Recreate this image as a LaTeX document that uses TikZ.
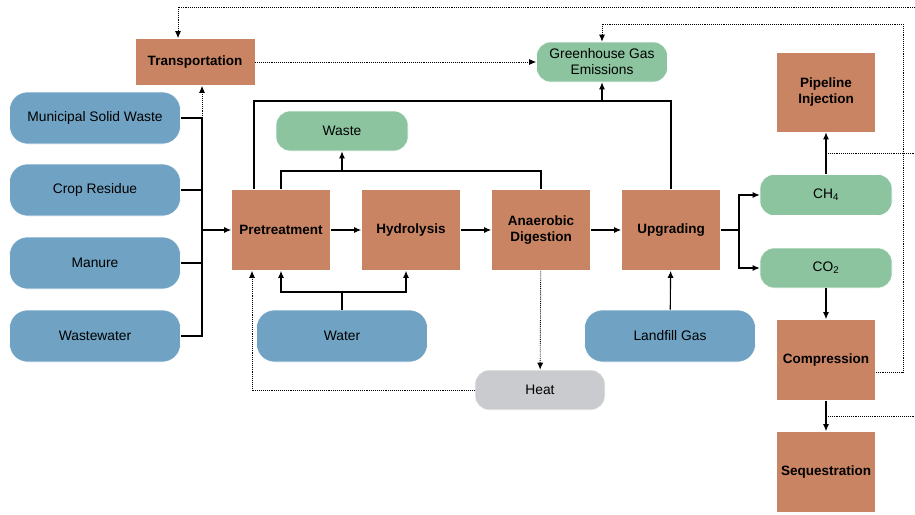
\documentclass[tikz,border=0pt]{standalone}
\usepackage{fontspec}
\setmainfont{Liberation Sans}
\usetikzlibrary{shapes.geometric, arrows, arrows.meta}

\definecolor{procfill}{HTML}{C98463}
\definecolor{srcfill}{HTML}{6FA2C3}
\definecolor{outfill}{HTML}{8BC49F}
\definecolor{heatfill}{HTML}{CACBCE}

\begin{document}
\begin{tikzpicture}[x=1pt,y=-1pt,node distance=130pt,font=\fontsize{13.8}{16}\selectfont]
\tikzstyle{proc}=[rectangle,align=center,draw=white,line width=0.6pt,fill=procfill,minimum width=99pt,minimum height=81pt,font=\fontsize{13.5}{16}\selectfont\bfseries]
\tikzstyle{src}=[rectangle,rounded corners=18pt,align=center,draw=white,line width=0.6pt,fill=srcfill,minimum width=171pt,minimum height=52pt]
\tikzstyle{prod}=[rectangle,rounded corners=14pt,align=center,draw=white,line width=0.6pt,fill=outfill,minimum width=132pt,minimum height=40pt]
\tikzstyle{solid line}=[line width=1.1pt]
\tikzstyle{arrow}=[line width=1.1pt,-{Latex[length=7pt,width=6pt]}]
\tikzstyle{dots}=[densely dotted,line width=0.9pt,-{Latex[length=7pt,width=6pt]}]
\useasboundingbox (0,0) rectangle (915,514);
\node[proc] (pre) at (281,230) {Pretreatment};
\node[proc, right of=pre] (hyd) {Hydrolysis};
\node[proc, right of=hyd] (ad) {Anaerobic\\Digestion};
\node[proc, right of=ad] (upg) {Upgrading};
\node[proc, minimum width=120pt, minimum height=47pt] (trans) at (195,62) {Transportation};
\node[prod, minimum width=131pt] (ghg) at (602,62) {Greenhouse Gas\\Emissions};
\node[prod] (waste) at (342,131) {Waste};
\node[src] (msw) at (95,118) {Municipal Solid Waste};
\node[src] (crop) at (95,190) {Crop Residue};
\node[src] (man) at (95,263) {Manure};
\node[src] (ww) at (95,336) {Wastewater};
\node[src] (water) at (342,336) {Water};
\node[src] (lfg) at (670,336) {Landfill Gas};
\node[prod, fill=heatfill, minimum width=130pt] (heat) at (540,390) {Heat};
\node[proc, minimum height=80pt] (pipe) at (826,92) {Pipeline\\Injection};
\node[prod, minimum height=41pt] (ch4) at (826,195) {CH\textsubscript{4}};
\node[prod] (co2) at (826,268) {CO\textsubscript{2}};
\node[proc] (comp) at (826,360) {Compression};
\node[proc] (seq) at (826,472) {Sequestration};
% feedstock bus
\coordinate (bus) at (202,230);
\coordinate (tbus) at (202,118);
\draw[solid line] (msw) -| (bus);
\draw[solid line] (crop) -| (bus);
\draw[solid line] (man) -| (bus);
\draw[solid line] (ww) -| (bus);
\draw[arrow] (bus) -- (pre);
\draw[dots] (tbus) -- (tbus |- trans.south);
% main chain
\draw[arrow] (pre) -- (hyd);
\draw[arrow] (hyd) -- (ad);
\draw[arrow] (ad) -- (upg);
% waste and emissions
\coordinate (wj) at (342,171);
\coordinate (gj) at (602,101);
\draw[solid line] (pre.north) -- (pre.north |- wj) -| (ad.north);
\draw[arrow] (wj) -- (waste);
\draw[solid line] ([xshift=-27pt]pre.north) -- ([xshift=-27pt]pre.north |- gj) -| (upg.north);
\draw[arrow] (gj) -- (ghg);
\draw[dots] (trans) -- (ghg);
% water and heat
\coordinate (wtj) at (342,292);
\draw[solid line] (water) -- (wtj);
\draw[arrow] (wtj) -| (pre.south);
\draw[arrow] (wtj) -| ([xshift=-5pt]hyd.south);
\draw[dots] (ad) -- (heat);
\draw[dots] (heat.west) -| ([xshift=-29pt]pre.south);
\draw[arrow] (lfg) -- (upg);
% products
\coordinate (uj) at (739,230);
\draw[solid line] (upg) -- (uj);
\draw[arrow] (uj) |- (ch4);
\draw[arrow] (uj) |- (co2);
\draw[arrow] (ch4) -- (pipe);
\draw[arrow] (co2) -- (comp);
\draw[arrow] (comp) -- (seq);
% dotted returns
\coordinate (e1) at (915,153);
\coordinate (e2) at (915,416);
\coordinate (e3) at (915,7);
\coordinate (cr) at (903,24);
\draw[densely dotted, line width=0.9pt] (ch4.north |- e1) -- (e1);
\draw[densely dotted, line width=0.9pt] (comp.south |- e2) -- (e2);
\draw[dots] ([yshift=-12pt]comp.east) -| (cr) -| (ghg.north);
\draw[dots] (e3) -| ([xshift=-17pt]trans.north);
\end{tikzpicture}
\end{document}
